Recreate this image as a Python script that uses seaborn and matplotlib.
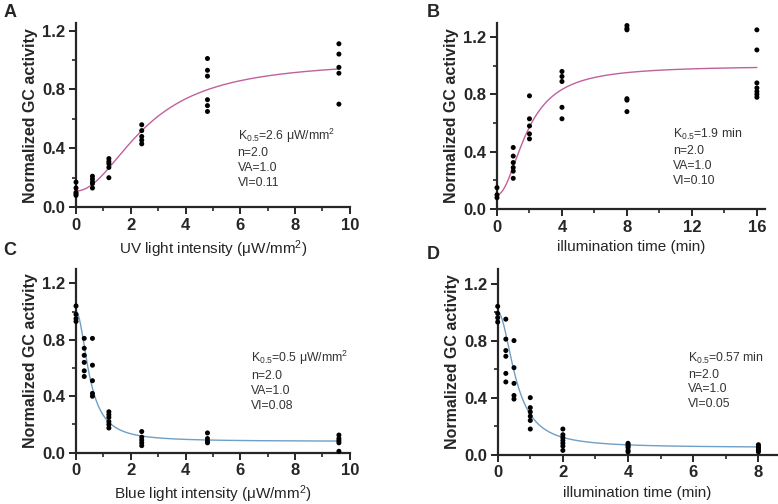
import numpy as np
import pandas as pd
import seaborn as sns
import matplotlib.pyplot as plt
from matplotlib.ticker import MultipleLocator

sns.set_style("ticks")
plt.rcParams['font.family'] = ['Liberation Sans', 'DejaVu Sans']
plt.rcParams['mathtext.default'] = 'regular'

# A: UV light intensity
uv_x = [0, 0.6, 1.2, 2.4, 4.8, 9.6]
uv_y = [[0.17, 0.13, 0.10, 0.09, 0.08],
        [0.21, 0.19, 0.17, 0.16, 0.13],
        [0.33, 0.31, 0.295, 0.27, 0.20],
        [0.56, 0.52, 0.48, 0.455, 0.43],
        [1.01, 0.93, 0.89, 0.73, 0.69, 0.65],
        [1.11, 1.04, 0.95, 0.91, 0.70]]
uv_fit = [2.6, 2.0, 1.0, 0.11]   # K0.5, n, VA, VI

# B: UV illumination time
uvt_x = [0, 1, 2, 4, 8, 16]
uvt_y = [[0.15, 0.10, 0.08],
         [0.43, 0.37, 0.325, 0.29, 0.265, 0.215],
         [0.79, 0.63, 0.58, 0.525, 0.49],
         [0.96, 0.925, 0.89, 0.71, 0.63],
         [1.28, 1.26, 1.25, 0.77, 0.76, 0.68],
         [1.25, 1.11, 0.88, 0.845, 0.82, 0.80, 0.78]]
uvt_fit = [1.9, 2.0, 1.0, 0.10]

# C: blue light intensity
bl_x = [0, 0.3, 0.6, 1.2, 2.4, 4.8, 9.6]
bl_y = [[1.04, 0.98, 0.95, 0.93],
        [0.81, 0.74, 0.69, 0.64, 0.58, 0.54],
        [0.81, 0.62, 0.51, 0.42, 0.40],
        [0.29, 0.27, 0.25, 0.22, 0.20, 0.175],
        [0.15, 0.11, 0.09, 0.07, 0.05],
        [0.14, 0.10, 0.08, 0.07],
        [0.125, 0.10, 0.085, 0.07, 0.01]]
bl_fit = [0.5, 2.0, 1.0, 0.08]

# D: blue illumination time
blt_x = [0, 0.25, 0.5, 1, 2, 4, 8]
blt_y = [[1.04, 0.99, 0.96, 0.93],
         [0.95, 0.81, 0.73, 0.69, 0.57, 0.51],
         [0.80, 0.61, 0.50, 0.415, 0.39],
         [0.40, 0.33, 0.30, 0.27, 0.24, 0.18],
         [0.18, 0.14, 0.12, 0.10, 0.08, 0.06, 0.03],
         [0.08, 0.07, 0.06, 0.05, 0.03, 0.02],
         [0.07, 0.06, 0.05, 0.04, 0.03, 0.02]]
blt_fit = [0.57, 2.0, 1.0, 0.05]


def to_df(xs, ys):
    rows = [(x, v) for x, vals in zip(xs, ys) for v in vals]
    return pd.DataFrame(rows, columns=['x', 'y'])


def hill(x, k, n, va, vi, rising):
    frac = x ** n / (k ** n + x ** n)
    return vi + (va - vi) * frac if rising else va - (va - vi) * frac


def panel(rect, xs, ys, fit, rising, color, xmax, xmaj, xmin, ytop,
          xlabel, note, note_pos, letter, letter_pos):
    ax = fig.add_axes(rect)
    df = to_df(xs, ys)
    grid = np.linspace(0, max(xs), 300)
    curve = pd.DataFrame({'x': grid, 'y': hill(grid, *fit, rising)})
    sns.lineplot(data=curve, x='x', y='y', color=color, lw=1.0, ax=ax, zorder=2)
    sns.scatterplot(data=df, x='x', y='y', color='black', s=13, edgecolor='none',
                    ax=ax, zorder=3, clip_on=False)
    ax.set_xlim(0, xmax)
    ax.set_ylim(0, ytop)
    ax.xaxis.set_major_locator(MultipleLocator(xmaj))
    ax.xaxis.set_minor_locator(MultipleLocator(xmin))
    ax.yaxis.set_major_locator(MultipleLocator(0.4))
    ax.yaxis.set_minor_locator(MultipleLocator(0.2))
    ax.set_yticklabels([f'{v:.1f}' for v in ax.get_yticks()])
    sns.despine(ax=ax)
    for s in ['left', 'bottom']:
        ax.spines[s].set_linewidth(1.6)
    ax.tick_params(which='major', length=5, width=1.4, labelsize=12, pad=2.5)
    ax.tick_params(which='minor', length=3, width=1.2)
    for lab in ax.get_xticklabels() + ax.get_yticklabels():
        lab.set_fontweight('bold')
    ax.set_xlabel(xlabel, fontsize=11, labelpad=4)
    ax.set_ylabel('Normalized GC activity', fontsize=11.5, fontweight='bold', labelpad=3)
    ax.text(note_pos[0], note_pos[1], note, transform=ax.transAxes, fontsize=8.8,
            color='#333333', va='center', ha='left', linespacing=1.3)
    fig.text(letter_pos[0], letter_pos[1], letter, fontsize=13, fontweight='bold',
             ha='left', va='center')
    return ax


fig = plt.figure(figsize=(7.78, 5.04), dpi=100)
pink = '#c0619b'
blue = '#6f9fc6'

panel([0.0977, 0.589, 0.352, 0.365], uv_x, uv_y, uv_fit, True, pink, 10, 2, 1, 1.25,
      'UV light intensity (μW/mm$^{2}$)',
      'K$_{0.5}$=2.6 μW/mm$^{2}$\nn=2.0\nVA=1.0\nVI=0.11', (0.59, 0.27),
      'A', (0.004, 0.975))
panel([0.6388, 0.585, 0.3445, 0.37], uvt_x, uvt_y, uvt_fit, True, pink, 16.5, 4, 2, 1.3,
      'illumination time (min)',
      'K$_{0.5}$=1.9 min\nn=2.0\nVA=1.0\nVI=0.10', (0.657, 0.28),
      'B', (0.548, 0.975))
panel([0.0977, 0.1018, 0.352, 0.364], bl_x, bl_y, bl_fit, False, blue, 10, 2, 1, 1.3,
      'Blue light intensity (μW/mm$^{2}$)',
      'K$_{0.5}$=0.5 μW/mm$^{2}$\nn=2.0\nVA=1.0\nVI=0.08', (0.639, 0.394),
      'C', (0.004, 0.502))
panel([0.6397, 0.0978, 0.3586, 0.368], blt_x, blt_y, blt_fit, False, blue, 8.56, 2, 1, 1.3,
      'illumination time (min)',
      'K$_{0.5}$=0.57 min\nn=2.0\nVA=1.0\nVI=0.05', (0.682, 0.40),
      'D', (0.548, 0.495))

fig.savefig('out.png', dpi=100)
